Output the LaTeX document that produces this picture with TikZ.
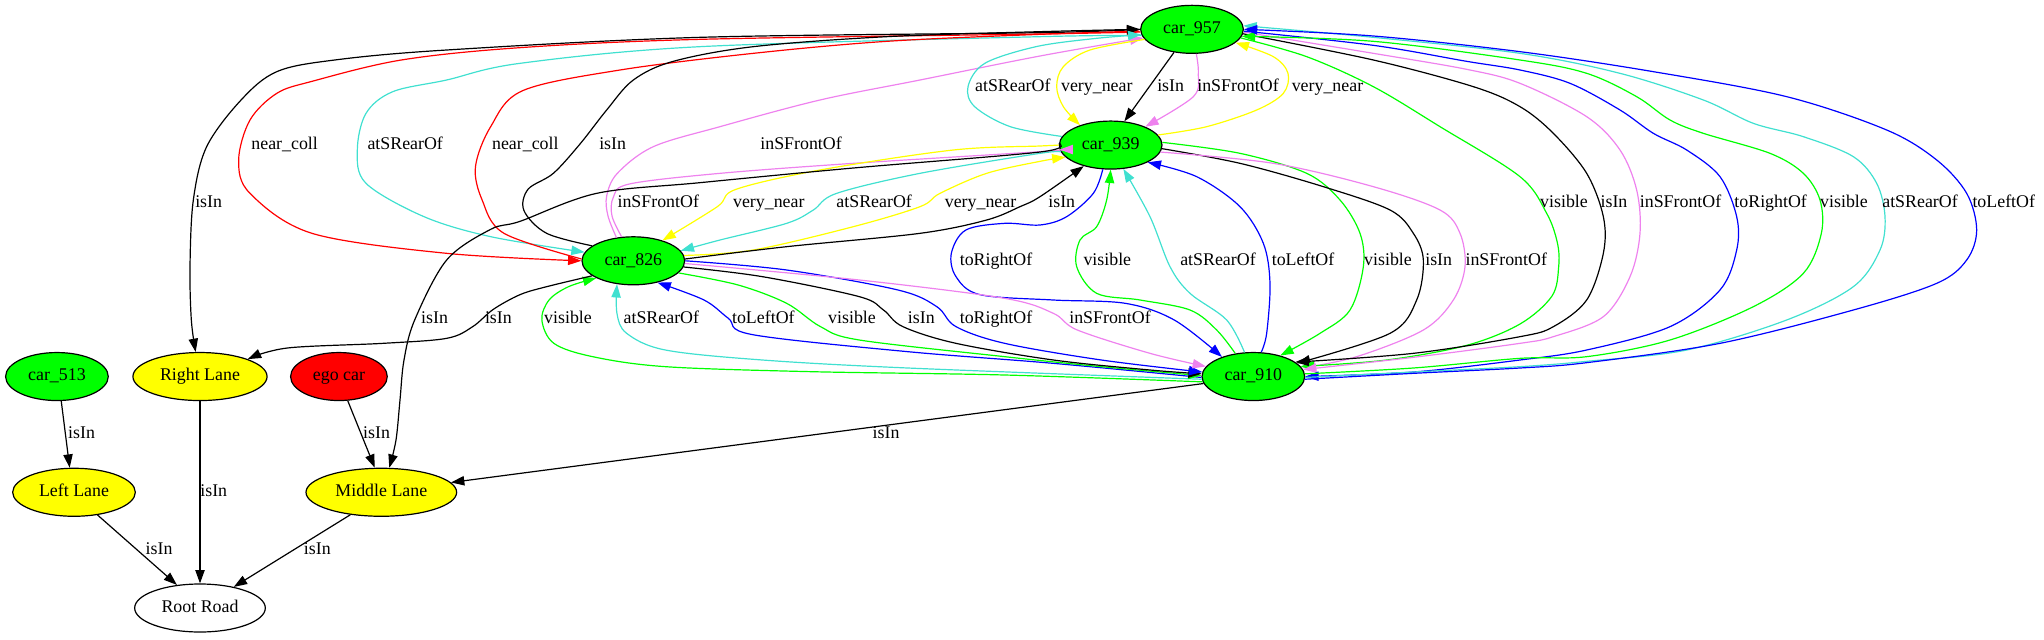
\documentclass[tikz,border=0pt]{standalone}
\usepackage{fontspec}
\setmainfont{Liberation Serif}
\usetikzlibrary{shapes.geometric,arrows.meta}
\definecolor{gvgreen}{HTML}{00FF00}
\definecolor{gvyellow}{HTML}{FFFF00}
\definecolor{gvred}{HTML}{FF0000}
\definecolor{gvblue}{HTML}{0000FF}
\definecolor{gvturq}{HTML}{40E0D0}
\definecolor{gvviolet}{HTML}{EE82EE}
\begin{document}
\begin{tikzpicture}[x=1pt,y=-1pt,
    font=\fontsize{13.4}{16}\selectfont,
    obj/.style={ellipse,draw,line width=0.9pt,inner sep=0pt,minimum height=36pt,text height=9.5pt,text depth=3pt},
    car/.style={obj,fill=gvgreen,minimum width=77pt},
    lane/.style={obj,fill=gvyellow},
    lbl/.style={inner sep=0pt,text height=9.5pt,text depth=3pt},
    rel/.style={line width=0.9pt,-{Triangle[length=10pt,width=7pt]}},
    spl/.style={smooth,tension=0.55}]
  \useasboundingbox (0,0) rectangle (1533,479.25);

  \node [car] (c957) at (894,22) {car\_957};
  \node [car] (c939) at (833,108.8) {car\_939};
  \node [car] (c826) at (475,195.6) {car\_826};
  \node [car] (c910) at (940,282.4) {car\_910};
  \node [car] (c513) at (42.7,282.4) {car\_513};
  \node [lane,minimum width=100.6pt] (rlane) at (150,282.4) {Right Lane};
  \node [obj,fill=gvred,minimum width=72.5pt] (ego) at (254.2,282.4) {ego car};
  \node [lane,minimum width=92pt] (llane) at (55.5,369.2) {Left Lane};
  \node [lane,minimum width=113pt] (mlane) at (286,369.2) {Middle Lane};
  \node [obj,fill=white,minimum width=98pt] (root) at (150,456) {Root Road};

  \draw [rel] plot [spl] coordinates {(c957.180) (780,24.5) (525,28) (335,37.5) (251,45) (207.6,53.75) (180.8,75) (155,110) (145,150) (142.5,200) (143.5,240) (rlane.100)};
  \node [lbl] (lA0) at (156.5,152.2) {isIn};

  \draw [rel,gvred] plot [spl] coordinates {(c957.183) (780,25.5) (525,29.5) (390,35.75) (301,45) (234,61) (207.6,70) (187.5,90) (179,120) (187.5,145) (234,175) (335,190) (c826.180)};
  \draw [rel,gvturq] plot [spl] coordinates {(c957.187) (780,27.5) (525,35) (390,47.5) (335,60) (294.6,68.75) (274.5,85) (268,112.5) (274.5,137.5) (318,162.5) (368,177.5) (c826.170)};
  \draw [rel,gvred] plot [spl] coordinates {(c826.178) (378,175) (361.6,150) (356.6,125) (368,95) (392,68) (465,52.5) (565,40) (665,31) (780,25.75) (c957.182)};
  \draw [rel] plot [spl] coordinates {(c826.160) (410,175) (393,158) (396,142) (415,130) (435,108) (455,82.5) (475,60) (505,46) (565,35) (665,27.5) (780,23.75) (c957.180)};
  \draw [rel,gvviolet] plot [spl] coordinates {(c826.126) (456,162) (455,147) (463,130) (490,110) (540,95) (615,75) (690,60) (780,42) (c957.190)};
  \node [lbl] (lA1) at (213.5,108.8) {near\_coll};
  \node [lbl] (lA2) at (303.9,108.8) {atSRearOf};
  \node [lbl] (lA3) at (394,108.8) {near\_coll};
  \node [lbl] (lA4) at (459.5,108.8) {isIn};
  \node [lbl] (lA5) at (600.8,108.8) {inSFrontOf};

  \draw [rel,gvviolet] plot [spl] coordinates {(c826.116) (459,162) (460,148) (472,138) (540,130) (640,122.5) (780,113.75) (c939.185)};
  \draw [rel,gvyellow] plot [spl] coordinates {(c939.180) (780,109.5) (715,112.5) (615,127.5) (552,142) (538,155) (c826.35)};
  \draw [rel,gvturq] plot [spl] coordinates {(c939.188) (780,115) (690,130) (627.5,145) (610,157.5) (590,167.5) (540,180) (c826.12)};
  \draw [rel,gvyellow] plot [spl] coordinates {(c826.6) (565,187.5) (640,170) (690,155) (705,145) (740,130) (780,121) (c939.195)};
  \draw [rel] plot [spl] coordinates {(c826.2) (590,185) (690,175) (740,165) (765,155) (780,147.5) (c939.218)};
  \node [lbl] (lB1) at (493.7,152.2) {inSFrontOf};
  \node [lbl] (lB2) at (576.6,152.2) {very\_near};
  \node [lbl] (lB3) at (655.6,152.2) {atSRearOf};
  \node [lbl] (lB4) at (735.4,152.2) {very\_near};
  \node [lbl] (lB5) at (796.3,152.2) {isIn};

  \draw [rel,gvturq] plot [spl] coordinates {(c939.170) (757.7,95) (731,80) (726,65) (738.6,47.5) (777,35) (820,29) (c957.186)};
  \draw [rel,gvyellow] plot [spl] coordinates {(c957.192) (817.5,37.5) (797.5,50) (792.5,65) (797.5,80) (c939.147)};
  \draw [rel] (c957.232) -- (c939.60);
  \draw [rel,gvviolet] plot [spl] coordinates {(c957.280) (898.75,55) (895,72.5) (c939.28)};
  \draw [rel,gvyellow] plot [spl] coordinates {(c939.12) (905,95) (942.5,82.5) (962.5,70) (966,55) (955,42.5) (c957.343)};
  \node [lbl] (lC1) at (759.6,65.4) {atSRearOf};
  \node [lbl] (lC2) at (822.6,65.4) {very\_near};
  \node [lbl] (lC3) at (878,65.4) {isIn};
  \node [lbl] (lC4) at (928.5,65.4) {inSFrontOf};
  \node [lbl] (lC5) at (995.6,65.4) {very\_near};

  \draw [rel,gvblue] plot [spl] coordinates {(c939.252) (820,145) (800,162.5) (780,168.75) (753.5,167.5) (724.4,172.5) (713.5,190) (717,207.5) (735,221) (790,225) (844,227.5) (880.7,240) (c910.148)};
  \draw [rel,gvgreen] plot [spl] coordinates {(c910.128) (912.5,247.5) (892.5,232.5) (855,225) (822.5,220) (807.5,200) (810,180) (822.5,170) (830,150) (c939.270)};
  \draw [rel,gvturq] plot [spl] coordinates {(c910.110) (920,240) (892.5,220) (877.5,200) (862.5,162.5) (c939.298)};
  \draw [rel,gvblue] plot [spl] coordinates {(c910.72) (950,250) (952.5,212.5) (947.5,182.5) (930,155) (897.5,132.5) (c939.335)};
  \draw [rel,gvgreen] plot [spl] coordinates {(c939.3) (930,115) (980,130) (1005,150) (1020,175) (1022.5,200) (1012.5,232.5) (990,250) (c910.38)};
  \draw [rel] plot [spl] coordinates {(c939.356) (930,122.5) (992.5,140) (1042.5,157.5) (1060,175) (1067.5,195) (1062.5,225) (1042.5,250) (c910.17)};
  \draw [rel,gvviolet] plot [spl] coordinates {(c939.352) (955,122.5) (1030,140) (1080,157.5) (1095,175) (1098.75,200) (1090,225) (1067.5,247.5) (1017.5,267.5) (c910.10)};
  \node [lbl] (lD1) at (747,195.6) {toRightOf};
  \node [lbl] (lD2) at (830.5,195.6) {visible};
  \node [lbl] (lD3) at (913.5,195.6) {atSRearOf};
  \node [lbl] (lD4) at (977.3,195.6) {toLeftOf};
  \node [lbl] (lD5) at (1041,195.6) {visible};
  \node [lbl] (lD6) at (1079,195.6) {isIn};
  \node [lbl] (lD7) at (1129.7,195.6) {inSFrontOf};

  \draw [rel,gvgreen] plot [spl] coordinates {(c910.186) (753.5,281.25) (608,278.75) (499,275) (444.5,267.5) (415.4,257.5) (406.4,240) (411.8,225) (426.4,215) (c826.205)};
  \draw [rel,gvturq] plot [spl] coordinates {(c910.183) (680.8,276) (571.8,270) (499,262.5) (470,250) (462.7,235) (c826.235)};
  \draw [rel,gvblue] plot [spl] coordinates {(c910.181) (790,272.5) (680.8,263.75) (564.5,251) (546.3,238.75) (528,225) (c826.318)};
  \draw [rel,gvgreen] plot [spl] coordinates {(c826.345) (553.6,213.75) (590,227.5) (615.4,245) (644.5,255) (753.5,267.5) (826,275) (c910.179)};
  \draw [rel] plot [spl] coordinates {(c826.353) (571.8,207.5) (644.5,222.5) (662.6,232.5) (677.2,245) (717,257.5) (790,270) (862.5,277.5) (c910.177)};
  \draw [rel,gvblue] plot [spl] coordinates {(c826.0) (590,202.5) (673.5,217.5) (702.6,230) (717,245) (753.5,257.5) (826,270) (c910.175)};
  \draw [rel,gvviolet] plot [spl] coordinates {(c826.357) (644.5,210) (753.5,223.75) (790,235) (808,247.5) (862.5,265) (c910.168)};
  \node [lbl] (lE1) at (426,239) {visible};
  \node [lbl] (lE2) at (496,239) {atSRearOf};
  \node [lbl] (lE3) at (572.5,239) {toLeftOf};
  \node [lbl] (lE4) at (639,239) {visible};
  \node [lbl] (lE5) at (691,239) {isIn};
  \node [lbl] (lE6) at (747,239) {toRightOf};
  \node [lbl] (lE7) at (832.5,239) {inSFrontOf};

  \draw [rel,gvgreen] plot [spl] coordinates {(c957.350) (980,42.5) (1030,65) (1080,95) (1140,132.5) (1160,160) (1168,182) (1169,200) (1164,222) (1140,243) (1100,259) (1040,270) (c910.12)};
  \draw [rel] plot [spl] coordinates {(c957.355) (1030,45) (1105,65) (1140,80) (1165,100) (1190,130) (1202.5,162.5) (1202.5,190) (1190,225) (1165,245) (1140,252.5) (1060,265) (c910.19)};
  \draw [rel,gvviolet] plot [spl] coordinates {(c957.357) (1030,40) (1100,52) (1140,62.5) (1190,87.5) (1215,112.5) (1227.5,142.5) (1230,175) (1222.5,207.5) (1202.5,237.5) (1165,252.5) (1140,257.5) (1060,268) (c910.8)};
  \draw [rel,gvblue] plot [spl] coordinates {(c957.358) (1030,34) (1100,46) (1140,52.5) (1177.5,62.5) (1215,82.5) (1240,100) (1265,112.5) (1290,132.5) (1302.5,162.5) (1302.5,187.5) (1290,217.5) (1252.5,245) (1190,262.5) (1140,270) (1060,279) (c910.0)};
  \draw [rel,gvgreen] plot [spl] coordinates {(c910.3) (1060,276) (1140,268.75) (1190,267.5) (1252.5,255) (1315,230) (1352.5,205) (1366,175) (1365,150) (1352.5,130) (1327.5,115) (1277.5,100) (1252.5,90) (1227.5,72.5) (1190,55) (1140,45) (1030,31) (c957.352)};
  \draw [rel,gvturq] plot [spl] coordinates {(c910.359) (1060,279) (1140,275) (1190,271) (1265,262.5) (1340,240) (1390,215) (1410,187.5) (1413.75,162.5) (1407.5,137.5) (1390,117.5) (1352.5,102.5) (1315,92.5) (1277.5,75) (1215,55) (1140,40) (1030,28) (c957.4)};
  \draw [rel,gvblue] plot [spl] coordinates {(c910.357) (1060,280) (1140,276) (1190,272) (1290,257.5) (1390,232.5) (1452.5,212.5) (1475,195) (1482.5,172.5) (1475,145) (1452.5,120) (1415,97.5) (1340,72.5) (1240,53.75) (1140,38.75) (1030,27) (c957.0)};
  \node [lbl] (lF1) at (1173,152.2) {visible};
  \node [lbl] (lF2) at (1210.5,152.2) {isIn};
  \node [lbl] (lF3) at (1260.4,152.2) {inSFrontOf};
  \node [lbl] (lF4) at (1328,152.2) {toRightOf};
  \node [lbl] (lF5) at (1383,152.2) {visible};
  \node [lbl] (lF6) at (1440,152.2) {atSRearOf};
  \node [lbl] (lF7) at (1502.8,152.2) {toLeftOf};

  \draw [rel] plot [spl] coordinates {(c939.178) (780,114) (640,126) (525,137) (447.5,145) (390,166) (368,172) (335,195) (311,240) (303,270) (300,300) (297,330) (mlane.72)};
  \draw [rel] plot [spl] coordinates {(c826.200) (410,215) (390,221) (370,232) (354.5,245) (335,253.75) (287.4,257.5) (215.5,261) (rlane.20)};
  \draw [rel] (c910.188) -- (mlane.8);
  \draw [rel] (ego.290) -- (mlane.105);
  \draw [rel] (c513.280) -- (llane.100);
  \draw [rel] (rlane.south) -- (root.north);
  \draw [rel] (llane.316) -- (root.135);
  \draw [rel] (mlane.216) -- (root.32);
  \node [lbl] (lG1) at (325.9,239) {isIn};
  \node [lbl] (lG2) at (373.8,239) {isIn};
  \node [lbl] (lG3) at (664.6,325.8) {isIn};
  \node [lbl] (lG4) at (282.4,325.8) {isIn};
  \node [lbl] (lG5) at (61.2,325.8) {isIn};
  \node [lbl] (lG6) at (160.3,369.2) {isIn};
  \node [lbl] (lG7) at (119.3,412.6) {isIn};
  \node [lbl] (lG8) at (238,412.6) {isIn};
\end{tikzpicture}
\end{document}
